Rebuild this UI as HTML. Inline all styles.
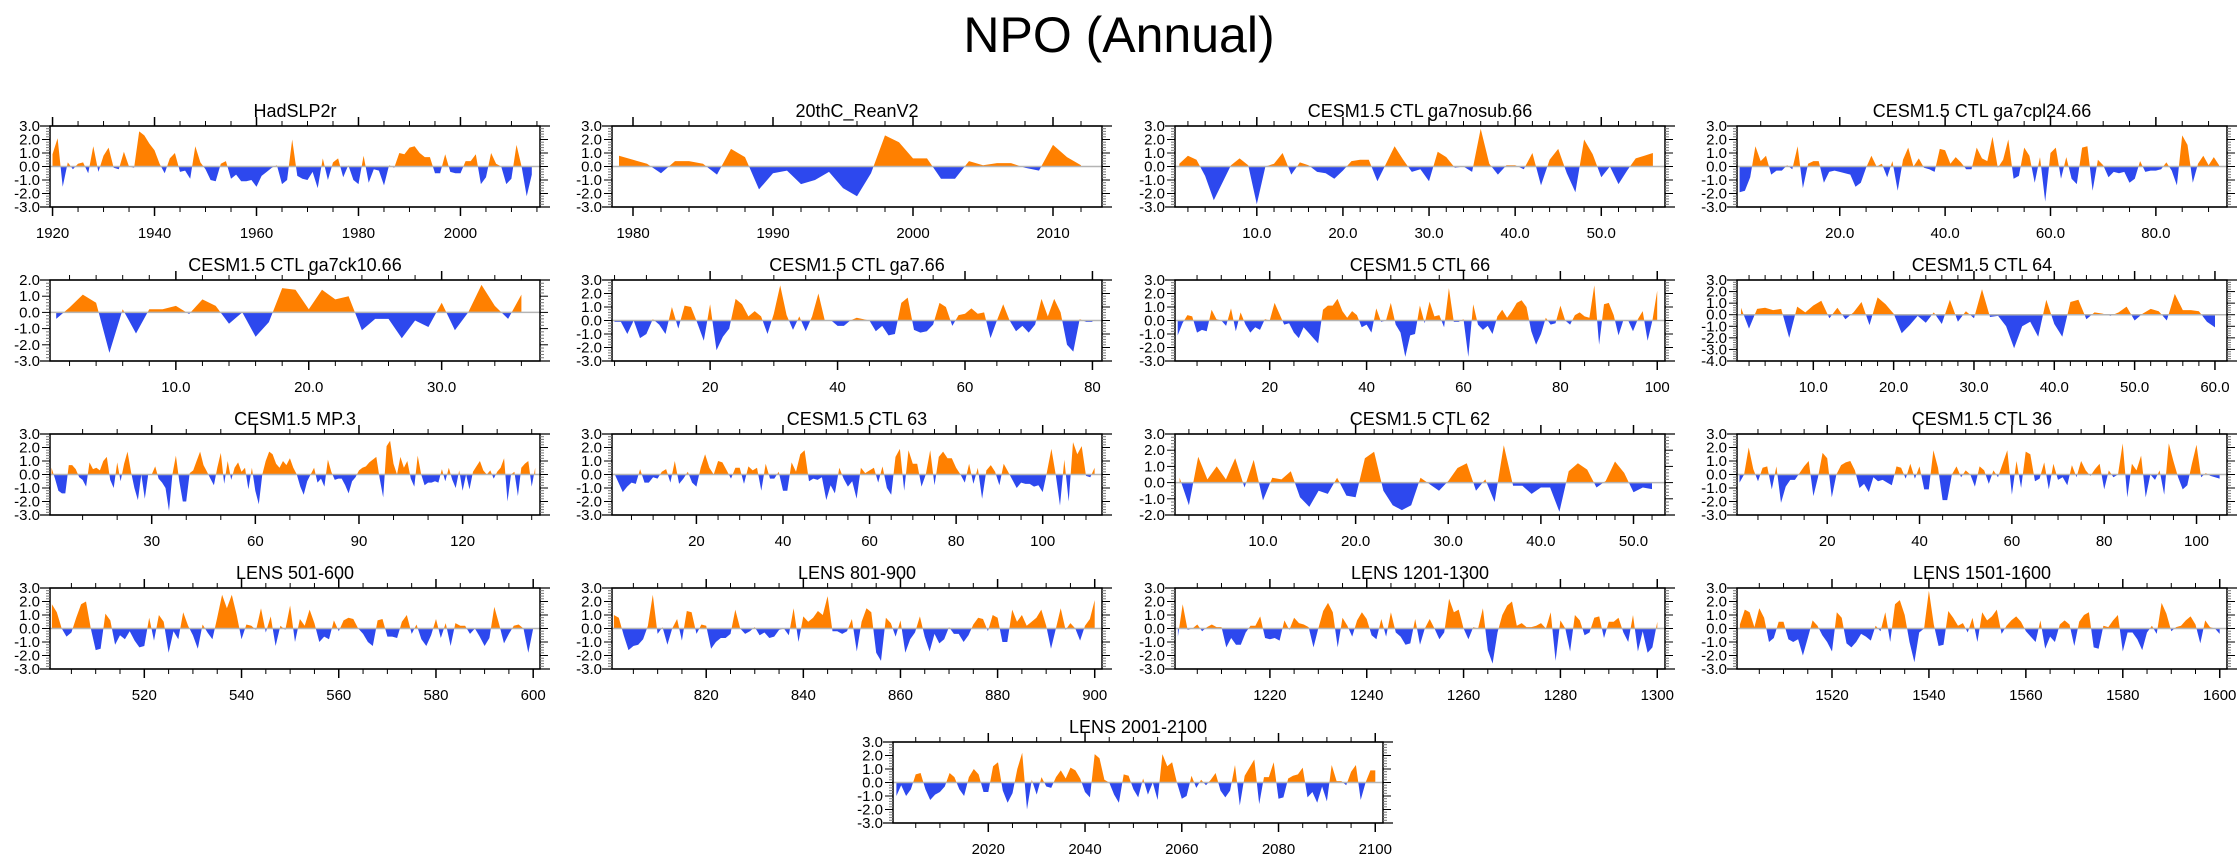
<!DOCTYPE html>
<html><head><meta charset="utf-8"><title>NPO (Annual)</title>
<style>html,body{margin:0;padding:0;background:#fff;}svg{display:block;font-family:"Liberation Sans",Arial,sans-serif;}</style>
</head><body>
<svg id="fig" xmlns="http://www.w3.org/2000/svg" width="2238" height="856" viewBox="0 0 2238 856">
<text x="1119" y="52" font-size="50" text-anchor="middle">NPO (Annual)</text>
</svg>
<script>
const hadslp2r=[0.9,2.1,-1.5,0.3,-0.2,0.2,0.3,-0.5,1.5,-0.4,0.8,1.4,-0.1,-0.2,1.1,0.0,-0.1,2.6,2.3,1.7,1.2,0.2,-0.5,0.6,1.0,-0.4,-0.3,-0.9,1.5,0.3,-0.2,-1.0,-1.1,0.2,0.4,-0.9,-0.6,-1.1,-1.1,-1.0,-1.5,-0.7,-0.4,-0.1,0.1,-1.3,-1.0,2.0,-0.7,-0.9,-1.0,-0.4,-1.6,0.6,-1.0,0.3,0.6,-0.8,0.1,-1.0,-1.3,0.8,-1.2,-0.2,-0.3,-1.4,0.1,-0.1,1.0,0.9,1.4,1.5,1.0,0.7,0.7,-0.5,-0.5,0.9,-0.4,-0.5,-0.5,0.4,0.4,0.9,-1.3,-0.8,1.0,0.2,0.0,-1.3,-0.9,1.6,0.0,-2.2,-0.6];
const reanv2=[0.8,0.5,0.2,-0.5,0.4,0.4,0.2,-0.6,1.3,0.7,-1.7,-0.5,-0.3,-1.3,-1.0,-0.4,-1.6,-2.2,-0.5,2.3,1.8,0.6,0.6,-0.9,-0.9,0.4,0.1,0.25,0.25,-0.1,-0.3,1.6,0.7,0.1];
const ga7nosub=[0.2,0.8,0.5,-0.7,-2.5,-1.2,0.1,0.6,0.1,-2.8,0.0,0.2,1.0,-0.6,0.3,0.1,-0.4,-0.5,-0.9,-0.3,0.4,0.5,0.5,-1.1,0.2,1.5,0.5,-0.4,-0.2,-1.1,1.1,0.7,-0.1,0.0,-0.4,2.8,0.2,-0.6,0.1,0.1,-0.2,1.0,-1.4,0.5,1.3,-0.5,-1.9,2.0,0.9,-0.8,0.0,-1.3,-0.3,0.6,0.8,1.0];
const ga7cpl24=[-1.9,-1.8,-0.8,1.5,0.4,0.8,-0.6,-0.3,-0.3,0.1,-0.2,1.5,-1.6,0.2,0.4,0.4,-1.2,-0.4,-0.3,-0.4,-0.5,-0.6,-1.5,-1.2,-0.1,0.8,0.0,0.2,-0.8,0.4,-1.8,0.5,1.4,0.0,0.6,-0.1,-0.2,-0.4,1.3,1.2,0.2,0.7,0.3,-0.2,-0.2,1.4,0.6,0.4,2.2,-0.1,0.5,2.0,-0.9,-0.7,1.4,0.8,-1.2,0.7,-2.6,1.0,1.4,-0.9,0.7,-0.9,-1.3,1.4,1.5,-1.8,0.5,0.1,-0.8,-0.4,-0.5,-0.4,-1.2,-0.9,0.4,-0.4,-0.3,-0.3,-0.2,0.3,-0.3,-1.4,2.3,1.6,-1.2,0.2,0.8,0.1,0.7,0.1];
const ga7ck10=[-0.4,0.3,1.1,0.6,-2.5,0.2,-1.3,0.2,0.2,0.4,-0.1,0.8,0.4,-0.7,0.0,-1.5,-0.6,1.5,1.4,0.2,1.4,0.8,1.0,-1.1,-0.4,-0.4,-1.6,-0.5,-0.9,0.6,-1.1,0.0,1.7,0.4,-0.4,1.1];
const ga7=[-0.1,-0.1,-1.0,0.0,-1.3,-1.0,0.1,-0.3,-1.0,1.0,-0.6,1.1,1.0,-0.2,-1.5,1.2,-2.2,-1.2,-0.6,1.6,1.2,0.3,0.7,0.3,-1.0,0.5,2.6,0.4,-0.7,0.3,-0.8,0.3,2.0,0.0,0.0,-0.4,-0.4,0.0,0.2,0.1,0.0,-0.8,-0.4,-1.1,-1.0,1.3,1.7,-0.7,-0.9,-0.8,-0.3,1.3,1.0,-0.4,0.4,0.5,0.9,0.5,0.6,-1.3,0.0,1.2,0.0,-0.8,-0.4,-0.9,-0.3,1.6,0.3,1.6,0.6,-1.8,-2.3,0.1,-0.1,-0.1];
const ctl66=[-1.1,-0.2,0.4,0.3,-0.9,-0.7,-0.8,0.8,0.1,0.0,-0.4,0.9,-0.8,0.6,-0.3,-0.9,-0.5,-0.7,0.1,0.0,1.3,0.5,-0.3,-0.2,-0.9,-1.3,-0.5,-0.9,-1.3,-1.7,0.8,1.1,1.1,1.6,0.7,0.2,0.7,0.4,-0.5,-0.3,-0.9,0.9,-0.1,0.0,1.3,-0.3,-0.9,-2.7,-1.1,-1.0,1.1,-0.2,1.4,0.3,0.4,-0.5,2.4,-0.1,-0.1,0.1,-2.7,1.2,-0.3,-0.7,-0.4,-1.0,0.3,0.8,0.2,0.7,1.3,1.5,1.0,-0.8,-1.8,-1.0,0.2,-0.3,-0.2,1.1,0.0,-0.3,0.4,0.6,0.3,0.2,2.6,-1.8,1.2,1.3,0.4,-1.1,0.0,0.0,-0.8,0.1,0.7,-1.5,0.0,2.2];
const ctl64=[0.6,-1.2,0.5,0.6,0.4,0.5,-2.0,0.7,0.2,0.8,1.2,-0.3,0.6,-0.4,0.2,1.1,-0.9,1.5,0.9,0.1,-1.6,-0.9,-0.1,-0.7,0.2,-0.8,1.3,-0.6,0.3,-0.3,2.2,-0.2,-0.1,-1.0,-2.9,-1.0,-0.6,-1.9,1.3,-0.8,-1.9,1.1,1.3,-0.4,0.2,0.1,-0.1,0.2,0.7,-0.5,0.1,0.5,0.3,-0.5,1.8,0.4,0.4,0.3,-0.6,-1.1];
const mp3=[0.5,-0.3,-1.2,-1.4,-1.4,0.7,0.7,0.4,-0.2,-0.4,-0.9,0.9,0.4,0.5,0.3,1.0,1.3,-0.4,-1.0,0.9,-0.5,0.8,1.7,0.2,-1.0,-1.9,0.0,-1.8,0.0,0.0,0.6,-0.3,-0.6,-1.0,-2.7,0.0,1.4,-0.5,-2.0,-2.0,0.1,0.3,1.0,1.7,0.7,0.2,-0.3,-0.8,0.5,1.6,-0.7,1.0,-0.4,0.5,0.9,0.2,0.5,-1.1,0.5,-1.2,-2.2,0.0,1.0,1.7,1.5,0.8,0.5,1.0,0.7,1.2,0.5,0.0,-0.9,-1.5,-0.5,0.0,0.5,-0.6,-0.3,-0.9,1.1,0.2,-0.4,-0.3,-0.3,-0.8,-1.4,-0.5,-0.2,0.3,0.5,0.6,0.9,1.1,1.3,-0.3,-1.7,2.1,2.5,0.8,0.0,1.3,0.5,1.0,-0.3,-0.9,1.4,0.0,-0.8,-0.6,-0.6,-0.5,-0.6,0.4,-0.5,0.5,-0.4,-1.0,0.3,-1.2,0.0,-1.1,0.2,0.6,1.0,0.3,0.0,0.3,-0.3,0.2,0.5,1.2,-2.0,0.0,0.2,-1.6,0.5,0.8,1.0,-0.9,0.5];
const ctl63=[0.1,-0.6,-1.3,-0.9,-0.6,-0.7,0.4,-0.6,-0.6,-0.2,-0.3,0.2,0.4,-0.6,1.0,-0.7,-0.3,0.2,-0.6,-0.9,0.5,1.5,0.5,0.0,1.0,0.9,0.3,-0.3,0.5,0.5,-0.7,0.6,0.3,0.5,-1.2,0.8,-0.3,-0.3,0.2,-1.2,-1.2,0.9,0.2,1.5,1.8,-0.5,-0.3,-0.4,-0.2,-1.9,-0.8,-1.4,0.5,-0.3,-0.9,-0.5,-1.8,0.5,0.1,0.3,0.5,-0.6,0.6,-1.0,-1.5,1.3,1.9,-1.2,1.8,0.8,0.8,-0.9,0.0,1.8,-0.8,1.3,1.7,1.2,1.2,0.5,0.0,-0.6,0.8,-0.7,0.5,-1.8,0.3,0.7,0.2,-0.8,0.8,0.2,-0.4,-1.0,-0.6,-0.7,-0.7,-0.9,-0.8,-1.3,0.2,1.9,0.0,-2.3,1.1,-2.0,2.4,1.5,2.1,-0.1,-0.2,0.5];
const ctl62=[0.3,-1.4,1.6,0.2,1.0,0.2,1.5,-0.3,1.4,-1.1,0.3,0.2,0.7,-0.9,-1.5,-0.5,-0.7,0.3,-0.8,-0.9,1.5,1.9,-0.5,-1.4,-1.7,-1.4,0.3,-0.1,-0.5,0.1,0.9,1.2,-0.5,0.2,-1.2,2.3,-0.2,-0.2,-0.7,-0.3,-0.3,-1.8,0.7,1.2,0.8,-0.3,0.1,1.3,0.6,-0.6,-0.3,-0.4];
const ctl36=[-0.6,0.0,2.0,0.4,-0.5,0.5,0.6,-1.1,0.6,-2.1,-0.9,-0.4,-0.4,0.1,0.6,1.0,-1.6,-0.2,1.6,1.2,-1.7,0.0,0.7,0.9,1.0,0.3,-1.0,-0.7,-1.3,-0.2,-0.5,-0.4,-0.6,-0.8,0.6,0.5,-0.3,0.8,-0.3,0.6,-1.1,-1.1,1.8,0.5,-1.9,-1.9,0.0,0.6,-0.2,0.3,0.0,-0.9,0.6,0.3,-0.7,0.3,-0.2,0.8,1.8,-1.5,1.0,-1.0,1.7,1.5,-0.5,-0.3,0.9,-1.1,0.8,-0.4,-0.2,-0.8,0.7,-0.2,1.0,0.3,-0.1,0.4,0.8,-1.1,0.3,-0.2,0.0,2.3,-1.7,0.8,0.3,1.4,-1.7,0.0,-0.4,0.3,-1.5,2.3,1.0,-0.2,-1.1,-0.8,0.8,2.2,-0.2,0.1,-0.1,-0.2,-0.3];
const lens501=[1.8,1.2,0.0,-0.6,-0.3,0.8,1.8,2.0,0.0,-1.6,-1.5,1.1,0.6,-1.2,-0.5,-0.8,-0.2,-0.9,-1.4,-1.3,0.8,-0.9,1.0,0.5,-1.8,-0.2,-0.8,1.2,0.2,-0.5,-1.5,0.3,-0.3,-0.8,0.8,2.5,1.5,2.5,1.0,-0.8,0.3,0.2,-0.1,1.5,-0.3,0.9,-1.3,0.2,-0.1,1.7,-1.0,0.7,0.2,1.4,0.4,-1.0,-0.6,-0.8,0.6,-0.2,0.6,0.8,0.7,0.0,-0.4,-1.0,-1.3,0.6,0.7,-0.6,-0.6,-0.7,0.5,1.0,-0.4,0.3,-0.8,-1.3,-0.5,0.7,-0.7,0.4,-1.3,0.4,0.2,0.2,-0.4,0.0,-0.6,-1.3,-0.7,1.6,0.3,-1.1,-0.4,0.2,0.3,0.0,-1.8,0.0];
const lens801=[1.0,0.8,-0.5,-1.6,-1.3,-1.2,-0.8,0.2,2.5,-0.4,0.1,-1.2,0.0,0.7,-0.9,1.3,1.2,-0.4,0.3,0.2,-1.5,-1.0,-0.7,-0.7,-0.4,1.4,0.0,-0.4,-0.2,0.1,-0.5,-0.3,-0.7,-0.6,-0.1,0.0,-0.5,1.5,-1.0,0.9,0.5,0.8,1.3,1.0,2.4,-0.2,-0.2,-0.4,-0.2,0.7,-1.7,0.5,1.5,1.2,-1.8,-2.4,0.8,0.4,-0.6,0.6,-1.8,-0.8,-0.3,0.9,-0.6,-1.7,-0.4,-1.1,-0.8,0.1,-0.4,-0.4,-1.0,-0.5,0.3,0.8,0.7,-0.2,1.0,0.8,-1.0,-1.0,1.4,0.5,1.0,0.2,0.5,0.8,1.4,0.2,-1.5,0.0,1.5,-0.1,0.4,0.0,-0.9,0.2,0.7,2.1];
const lens1201=[-0.6,1.8,-0.1,0.0,0.3,-0.2,0.1,0.3,0.1,0.1,-1.4,-0.7,-1.2,-1.2,-0.3,0.2,0.2,0.9,-0.7,-0.8,-0.7,-0.9,0.6,-0.1,0.8,0.4,0.3,0.1,-1.4,0.0,1.3,1.9,1.2,-1.4,0.8,0.2,-0.6,0.6,1.2,0.7,-0.5,-0.8,0.7,-0.6,1.2,-0.3,-0.6,-1.2,-1.1,0.7,-1.2,0.0,0.7,0.0,-0.8,-0.3,2.2,1.2,1.4,0.0,-0.8,0.1,0.0,1.5,-1.6,-2.6,-0.3,1.0,1.7,2.0,0.2,0.4,0.1,0.1,0.2,0.4,0.0,1.2,-2.4,0.6,0.0,-1.7,1.0,0.6,-0.5,-0.3,0.8,0.9,-0.7,0.5,0.5,0.8,-0.3,-1.0,1.0,-1.7,-0.2,-1.8,-1.4,0.5];
const lens1501=[0.3,1.4,1.2,0.1,1.5,0.8,-1.0,-0.7,0.5,0.5,-0.8,-1.0,-0.8,-2.0,-0.7,0.6,0.2,-0.5,-1.0,-1.7,1.2,0.8,-1.1,-1.4,-1.0,-0.4,-0.6,-0.9,0.2,-0.2,1.2,-1.0,1.8,2.1,1.0,-1.0,-2.5,-0.3,0.0,2.8,0.3,-1.3,-1.2,1.3,0.8,0.2,0.4,-0.3,0.8,-1.0,1.2,0.6,0.9,1.4,-0.4,0.2,0.6,0.9,0.5,-0.2,-0.6,-1.0,0.6,-1.5,-0.6,-1.0,0.3,0.6,0.3,-1.3,0.5,1.0,1.2,-1.4,-1.5,0.2,0.1,0.6,1.0,-1.7,-0.3,-0.3,-0.8,-1.6,-0.3,0.2,-0.4,1.9,1.1,-0.2,0.1,0.2,0.6,0.9,0.3,-1.1,0.6,0.1,0.0,-0.4];
const lens2001=[-1.0,-0.2,-1.0,-0.5,0.6,0.7,-0.5,-1.3,-0.9,-0.7,-0.3,0.7,0.4,-0.5,-1.0,0.4,1.0,0.6,-0.7,-0.7,1.2,1.5,-0.6,-1.5,-0.8,1.0,2.2,-2.0,0.2,-0.9,0.4,-0.3,-0.4,0.4,0.9,0.3,1.1,0.9,0.3,-0.7,-1.1,2.1,1.8,0.2,0.0,-0.9,-1.5,0.6,0.5,-0.5,-1.1,0.3,-0.9,0.0,-1.3,2.1,1.2,1.5,0.0,-1.2,-1.0,0.5,-0.4,0.2,-0.2,0.2,0.7,-0.6,-1.1,-0.6,1.3,-1.7,0.5,1.1,1.7,-1.6,0.4,0.4,1.5,-1.2,-1.1,0.3,0.5,0.6,1.1,-1.1,-0.7,-1.5,-0.3,-1.4,1.3,0.1,0.1,-0.2,0.8,1.3,-1.3,0.0,0.9,0.9];

const panelTitles=["HadSLP2r","20thC_ReanV2","CESM1.5 CTL ga7nosub.66","CESM1.5 CTL ga7cpl24.66","CESM1.5 CTL ga7ck10.66","CESM1.5 CTL ga7.66","CESM1.5 CTL 66","CESM1.5 CTL 64","CESM1.5 MP.3","CESM1.5 CTL 63","CESM1.5 CTL 62","CESM1.5 CTL 36","LENS 501-600","LENS 801-900","LENS 1201-1300","LENS 1501-1600","LENS 2001-2100"];
const panelSeries=[hadslp2r,reanv2,ga7nosub,ga7cpl24,ga7ck10,ga7,ctl66,ctl64,mp3,ctl63,ctl62,ctl36,lens501,lens801,lens1201,lens1501,lens2001];
const firstX=[1920,1979,1,1,1,5,1,1,1,1,1,1,501,801,1201,1501,2001];
const xRanges=[[1919.5,2015.6],[1978.5,2013.5],[0.5,57.4],[0.5,93.5],[0.53,37.4],[4.6,81.5],[0.45,101.6],[0.5,61.5],[0.56,142.4],[0.5,113.7],[0.5,53.4],[0.46,106.6],[500.6,601.4],[800.6,901.5],[1200.4,1301.6],[1500.4,1601.5],[2000.3,2101.6]];
const yRanges=[[-3,3],[-3,3],[-3,3],[-3,3],[-3,2],[-3,3],[-3,3],[-4,3],[-3,3],[-3,3],[-2,3],[-3,3],[-3,3],[-3,3],[-3,3],[-3,3],[-3,3]];
const xMajor=[20,10,10,20,10,20,20,10,30,20,10,20,20,20,20,20,20];
const xMinor=[5,2,2,5,2,5,5,2,10,5,2,5,5,5,5,5,5];
const xDecimal=[false,false,true,true,true,false,false,true,false,false,true,false,false,false,false,false,false];

const NS="http://www.w3.org/2000/svg";
const svg=document.getElementById("fig");
const W=490,H=81;
const colX=[50,612,1175,1737], rowY=[126,280,434,588,742];
function el(tag,attrs,parent){const e=document.createElementNS(NS,tag);for(const k in attrs)e.setAttribute(k,attrs[k]);(parent||svg).appendChild(e);return e;}

panelSeries.forEach((vals,i)=>{
  const x0 = i<16 ? colX[i%4] : 893;
  const y0 = rowY[Math.floor(i/4)];
  const [xmin,xmax]=xRanges[i], [ymin,ymax]=yRanges[i];
  const sx=v=>x0+(v-xmin)/(xmax-xmin)*W;
  const sy=v=>y0+(ymax-v)/(ymax-ymin)*H;
  const g=el("g",{});
  
  
  const t=el("text",{x:x0+W/2,y:y0-9,"font-size":"18","text-anchor":"middle"},g);
  t.textContent=panelTitles[i];
  
  
  const z=sy(0);
  const defs=el("defs",{},g);
  const ca=el("clipPath",{id:"ca"+i},defs); el("rect",{x:x0,y:y0,width:W,height:z-y0},ca);
  const cb=el("clipPath",{id:"cb"+i},defs); el("rect",{x:x0,y:z,width:W,height:y0+H-z},cb);
  const xs=vals.map((v,k)=>firstX[i]+k);
  let pts=sx(xs[0]).toFixed(1)+","+z.toFixed(1);
  vals.forEach((v,k)=>{pts+=" "+sx(xs[k]).toFixed(1)+","+sy(v).toFixed(1);});
  pts+=" "+sx(xs[xs.length-1]).toFixed(1)+","+z.toFixed(1);
  const pa=el("polygon",{points:pts,fill:"#ff8000","clip-path":"url(#ca"+i+")"},g);
  
  
  const pb=el("polygon",{points:pts,fill:"#2d48ee","clip-path":"url(#cb"+i+")"},g);
  
  
  const zl=el("line",{x1:x0,x2:x0+W,y1:z,y2:z,stroke:"#b4b4b4","stroke-width":"1.5"},g);
  
  
  const bx=el("rect",{x:x0,y:y0,width:W,height:H,fill:"none",stroke:"#000","stroke-width":"1.5"},g);
  
  
  el("line",{x1:x0-10,x2:x0+W+10,y1:y0,y2:y0,stroke:"#000","stroke-width":"1.2"},g);
  el("line",{x1:x0-10,x2:x0+W+10,y1:y0+H,y2:y0+H,stroke:"#000","stroke-width":"1.2"},g);
  // y ticks
  for(let v=ymin;v<=ymax+1e-6;v+=0.2){
    const yy=sy(v); const maj=Math.abs(v-Math.round(v))<1e-6; const len=maj?8:4;
    el("line",{x1:x0-len,x2:x0,y1:yy,y2:yy,stroke:maj?"#000":"#777","stroke-width":"1"},g);
    el("line",{x1:x0+W,x2:x0+W+len,y1:yy,y2:yy,stroke:maj?"#000":"#777","stroke-width":"1"},g);
    if(maj){const yl=el("text",{x:x0-10,y:yy+5,"font-size":"15","text-anchor":"end"},g);
      yl.textContent=Math.round(v).toFixed(1);
      
      }
  }
  // x ticks
  for(let v=Math.ceil(xmin/xMinor[i])*xMinor[i];v<=xmax;v+=xMinor[i]){
    const xx=sx(v); const maj=(v%xMajor[i]===0); const len=maj?9:5;
    el("line",{x1:xx,x2:xx,y1:y0,y2:y0-len,stroke:"#000","stroke-width":maj?"1.5":"1"},g);
    el("line",{x1:xx,x2:xx,y1:y0+H,y2:y0+H+len,stroke:"#000","stroke-width":maj?"1.5":"1"},g);
    if(maj){const xl=el("text",{x:xx,y:y0+H+31,"font-size":"15","text-anchor":"middle"},g);
      xl.textContent=xDecimal[i]?v.toFixed(1):String(v);
      
      }
  }
});
</script>
</body></html>
